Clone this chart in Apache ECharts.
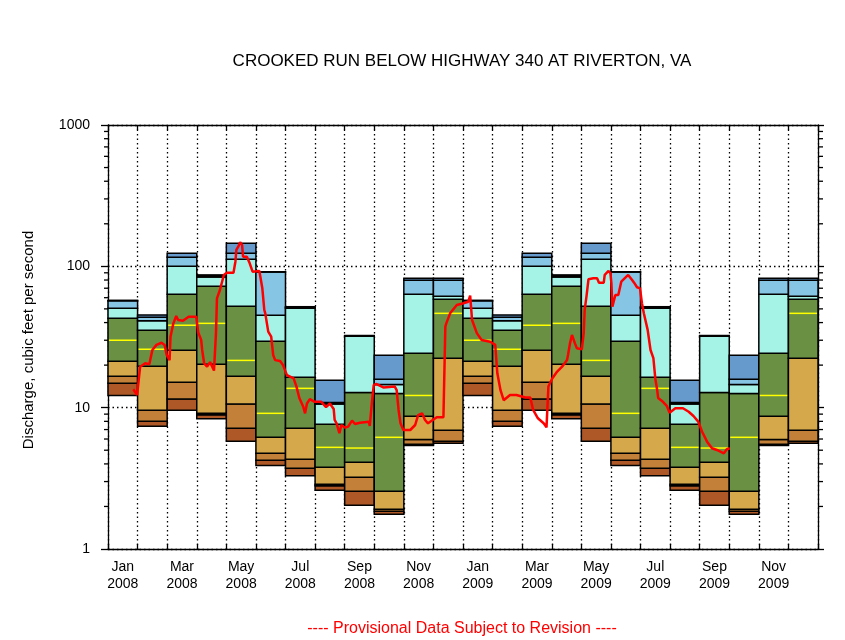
<!DOCTYPE html>
<html><head><meta charset="utf-8">
<script src="https://cdn.jsdelivr.net/npm/echarts@6/dist/echarts.min.js"></script>
<style>html,body{margin:0;padding:0;background:#fff}#c{width:845px;height:640px}</style>
</head><body><div id="c"></div>
<script>
// ---- DATA ----
const monthLabels = ['Jan\n2008','Feb\n2008','Mar\n2008','Apr\n2008','May\n2008','Jun\n2008',
  'Jul\n2008','Aug\n2008','Sep\n2008','Oct\n2008','Nov\n2008','Dec\n2008',
  'Jan\n2009','Feb\n2009','Mar\n2009','Apr\n2009','May\n2009','Jun\n2009',
  'Jul\n2009','Aug\n2009','Sep\n2009','Oct\n2009','Nov\n2009','Dec\n2009'];
// monthly percentile statistics (Jan..Dec), cfs
const pMin = [12.2, 7.38, 9.58, 8.36, 5.78, 3.89, 3.30, 2.60, 2.04, 1.76, 5.40, 5.60];
const p05  = [14.9, 8.01, 11.5, 8.90, 7.14, 4.24, 3.72, 2.80, 2.56, 1.85, 5.51, 5.78];
const p10  = [16.7, 9.58, 15.1, 9.12, 10.6, 4.75, 4.31, 2.87, 3.22, 1.91, 5.96, 6.92];
const p25  = [21.3, 19.6, 25.5, 20.3, 16.7, 6.17, 7.14, 3.79, 4.11, 2.56, 8.69, 22.4];
const p50  = [30.0, 25.9, 38.3, 39.5, 21.6, 9.12, 13.7, 5.24, 5.18, 6.17, 12.2, 46.5];
const p75  = [42.9, 35.3, 63.4, 72.2, 52.2, 29.5, 16.4, 7.63, 12.8, 12.6, 24.3, 58.4];
const p90  = [50.5, 41.2, 100, 84.1, 112.2, 45.0, 50.5, 10.6, 32.0, 14.6, 63.4, 61.4];
const p95  = [57.0, 43.6, 115.9, 86.2, 123.7, 91.0, 51.3, 10.9, 32.2, 15.9, 79.7, 79.7];
const pMax = [57.5, 45.3, 123.7, 86.9, 145.6, 91.6, 51.8, 15.6, 32.4, 23.5, 82.3, 82.3];

// daily discharge
const flowDates = ['2008-01-27','2008-01-31','2008-02-03','2008-02-08','2008-02-12','2008-02-15','2008-02-19','2008-02-24','2008-02-27','2008-02-29',
 '2008-03-03','2008-03-04','2008-03-07','2008-03-10','2008-03-12','2008-03-17','2008-03-23','2008-03-31',
 '2008-04-02','2008-04-05','2008-04-06','2008-04-08','2008-04-11','2008-04-14','2008-04-16','2008-04-18','2008-04-20','2008-04-21','2008-04-24','2008-04-28',
 '2008-05-01','2008-05-08','2008-05-10','2008-05-11','2008-05-13','2008-05-15','2008-05-17','2008-05-18','2008-05-22','2008-05-25','2008-05-28',
 '2008-06-04','2008-06-06','2008-06-07','2008-06-09','2008-06-10','2008-06-13','2008-06-16','2008-06-18','2008-06-20','2008-06-25','2008-06-28',
 '2008-07-02','2008-07-09','2008-07-12','2008-07-15','2008-07-19','2008-07-21','2008-07-23','2008-07-26','2008-07-31',
 '2008-08-07','2008-08-12','2008-08-16','2008-08-20','2008-08-21','2008-08-23','2008-08-26','2008-08-28',
 '2008-09-01','2008-09-04','2008-09-08','2008-09-11','2008-09-16','2008-09-25','2008-09-26','2008-09-28','2008-09-30',
 '2008-10-03','2008-10-10','2008-10-22','2008-10-24','2008-10-26','2008-10-28','2008-10-31',
 '2008-11-07','2008-11-12','2008-11-15','2008-11-19','2008-11-22','2008-11-25',
 '2008-12-04','2008-12-11','2008-12-13','2008-12-14','2008-12-18','2008-12-25',
 '2009-01-01','2009-01-06','2009-01-08','2009-01-10','2009-01-15','2009-01-20','2009-01-29',
 '2009-02-03','2009-02-05','2009-02-08','2009-02-11','2009-02-17','2009-02-23',
 '2009-03-04','2009-03-09','2009-03-12','2009-03-17','2009-03-23','2009-03-26','2009-03-28',
 '2009-04-01','2009-04-06','2009-04-11','2009-04-16','2009-04-17','2009-04-19','2009-04-21','2009-04-22','2009-04-24','2009-04-26',
 '2009-05-01','2009-05-03','2009-05-04','2009-05-06','2009-05-08','2009-05-13','2009-05-17','2009-05-19','2009-05-24','2009-05-25','2009-05-29','2009-05-31',
 '2009-06-01','2009-06-02','2009-06-05','2009-06-08','2009-06-10','2009-06-11','2009-06-13','2009-06-18','2009-06-20','2009-06-22','2009-06-24','2009-06-27','2009-06-30',
 '2009-07-02','2009-07-04','2009-07-08','2009-07-11','2009-07-14','2009-07-16','2009-07-18','2009-07-19','2009-07-24','2009-07-28','2009-07-31',
 '2009-08-06','2009-08-14','2009-08-20','2009-08-25','2009-08-30',
 '2009-09-03','2009-09-08','2009-09-13','2009-09-18','2009-09-25','2009-09-28','2009-10-01'];
const flowValues = [13.5,12.3,19.5,20.6,20.3,25.6,27.8,28.8,27.8,23.6,
 21.7,31.8,39.5,44.5,41.7,41.2,44.0,44.0,
 34.1,30.1,25.6,20.6,19.5,21.0,20.6,18.3,33.7,59.4,68.0,86.9,
 90.2,90.2,107.9,130.5,137.7,147.9,141.6,117.0,117.0,105.1,91.6,
 92.7,92.7,69.9,49.1,46.5,34.5,31.8,23.6,21.7,21.4,20.0,
 17.0,16.1,14.1,11.7,10.2,9.12,10.7,11.5,11.0,
 11.0,10.1,10.7,9.8,8.18,7.75,6.59,7.54,
 7.22,7.34,8.09,7.66,7.83,7.96,7.42,10.7,14.5,
 14.7,13.9,14.1,13.3,9.63,7.75,6.95,
 6.95,7.54,8.87,9.12,8.18,7.75,
 8.55,8.55,37.4,39.5,46.5,53.3,
 54.8,56.2,62.0,41.7,33.7,30.1,29.3,
 27.8,17.5,13.3,11.3,12.3,12.3,
 11.8,11.8,9.63,8.41,7.75,7.26,14.1,
 16.1,18.0,19.5,21.7,23.6,28.5,32.7,33.7,28.5,26.3,
 25.9,33.7,49.1,62.0,81.0,82.3,82.3,76.6,76.6,86.9,92.7,89.3,
 75.9,51.8,62.7,62.7,61.0,77.9,80.1,86.9,87.8,80.1,76.6,71.1,69.9,
 54.8,46.5,35.5,25.6,22.4,16.1,13.3,11.7,11.0,10.3,9.21,
 9.90,9.90,9.36,8.73,7.96,
 6.76,5.75,5.16,5.02,4.75,5.08,5.16];

// ---- BUILD ----
const COLORS = {dkbrown:'#ad5826', brown:'#c28038', tan:'#d5a84c', green:'#6a9044',
  cyan:'#a5f2e6', ltblue:'#87c5e4', blue:'#6699cc', median:'#ffff00'};

function monthPos(s){
  const [y,m,d] = s.split('-').map(Number);
  const dim = new Date(y, m, 0).getDate();
  return (y-2008)*12 + (m-1) + (d-0.5)/dim;
}
const flowData = flowDates.map((d,i)=>[monthPos(d), flowValues[i]]);

const boxData = monthLabels.map((_,i)=>{
  const k = i % 12;
  return [i, pMin[k], p05[k], p10[k], p25[k], p50[k], p75[k], p90[k], p95[k], pMax[k]];
});

const minorVals = [];
for (let e=0;e<3;e++) for (let j=2;j<=9;j++) minorVals.push(j*Math.pow(10,e));

const chart = echarts.init(document.getElementById('c'), null, {renderer:'canvas'});
const FONT = '"Liberation Sans", Arial, sans-serif';
const axisLineStyle = {color:'#000', width:1.3};
const dotted = {color:'#000', width:1.3, type:[1.5,3]};

const option = {
  backgroundColor:'#fff',
  animation:false,
  grid:{left:108, right:27, top:125, bottom:91, containLabel:false},
  xAxis:[
    {type:'category', data:monthLabels, position:'bottom', boundaryGap:true,
     axisLine:{show:true, lineStyle:axisLineStyle},
     axisTick:{show:true, inside:true, length:5, interval:0, lineStyle:axisLineStyle},
     splitLine:{show:true, interval:0, lineStyle:dotted},
     axisLabel:{show:true, interval:1, color:'#000', fontFamily:FONT, fontSize:14, lineHeight:17, margin:10}},
    {type:'value', min:0, max:24, interval:1, position:'top',
     axisLine:{show:true, lineStyle:axisLineStyle},
     axisTick:{show:true, inside:true, length:5, lineStyle:axisLineStyle},
     splitLine:{show:false}, axisLabel:{show:false}}
  ],
  yAxis:[
    {type:'log', logBase:10, min:1, max:1000, position:'left',
     axisLine:{show:true, lineStyle:axisLineStyle},
     axisTick:{show:true, inside:false, length:7, lineStyle:axisLineStyle},
     splitLine:{show:true, lineStyle:dotted},
     minorTick:{show:false}, minorSplitLine:{show:false},
     axisLabel:{show:true, color:'#000', fontFamily:FONT, fontSize:14, margin:18,
       formatter:v=>String(Math.round(v))}},
    {type:'log', logBase:10, min:1, max:1000, position:'right',
     axisLine:{show:true, lineStyle:axisLineStyle},
     axisTick:{show:true, inside:false, length:6, lineStyle:axisLineStyle},
     splitLine:{show:false}, axisLabel:{show:false}}
  ],
  series:[
    {type:'custom', name:'percentiles', xAxisIndex:1, yAxisIndex:0, data:boxData, z:3,
     renderItem:function(params, api){
       const m = api.value(0);
       const v = [];
       for (let j=1;j<=9;j++) v.push(api.value(j));
       const xl = api.coord([m, 10])[0], xr = api.coord([m+1, 10])[0];
       const yOf = val => api.coord([m, val])[1];
       const bands = [[0,1,COLORS.dkbrown],[1,2,COLORS.brown],[2,3,COLORS.tan],[3,5,COLORS.green],
                      [5,6,COLORS.cyan],[6,7,COLORS.ltblue],[7,8,COLORS.blue]];
       const children = [];
       bands.forEach(b=>{
         const y1 = yOf(v[b[0]]), y2 = yOf(v[b[1]]);
         children.push({type:'rect', shape:{x:xl, y:y2, width:xr-xl, height:y1-y2},
           style:{fill:b[2], stroke:'#000', lineWidth:1.5}});
       });
       const ym = yOf(v[4]);
       children.push({type:'line', shape:{x1:xl+1, y1:ym, x2:xr-1, y2:ym},
         style:{stroke:COLORS.median, lineWidth:1.5}});
       return {type:'group', children};
     }},
    {type:'custom', name:'minorTicks', xAxisIndex:1, yAxisIndex:0, data:minorVals.map(v=>[0,v]), z:5,
     clip:false, silent:true,
     renderItem:function(params, api){
       const cs = params.coordSys;
       const y = api.coord([0, api.value(1)])[1];
       return {type:'group', children:[
         {type:'line', shape:{x1:cs.x-4, y1:y, x2:cs.x, y2:y}, style:{stroke:'#000', lineWidth:1.3}},
         {type:'line', shape:{x1:cs.x+cs.width, y1:y, x2:cs.x+cs.width+5, y2:y}, style:{stroke:'#000', lineWidth:1.3}}
       ]};
     }},
    {type:'line', name:'discharge', xAxisIndex:1, yAxisIndex:0, data:flowData, z:10,
     showSymbol:false, symbol:'none', smooth:false,
     lineStyle:{color:'#ff0000', width:2.5}}
  ],
  graphic:[
    {type:'text', x:462, y:61, style:{text:'CROOKED RUN BELOW HIGHWAY 340 AT RIVERTON, VA',
      fill:'#000', font:'17px '+FONT, textAlign:'center', textVerticalAlign:'middle'}},
    {type:'text', x:462, y:629, style:{text:'---- Provisional Data Subject to Revision ----',
      fill:'#ff0000', font:'16px '+FONT, textAlign:'center', textVerticalAlign:'middle'}},
    {type:'text', x:29, y:340, rotation:Math.PI/2, style:{text:'Discharge, cubic feet per second',
      fill:'#000', font:'15px '+FONT, textAlign:'center', textVerticalAlign:'middle'}}
  ]
};
chart.setOption(option);
</script>
</body></html>
